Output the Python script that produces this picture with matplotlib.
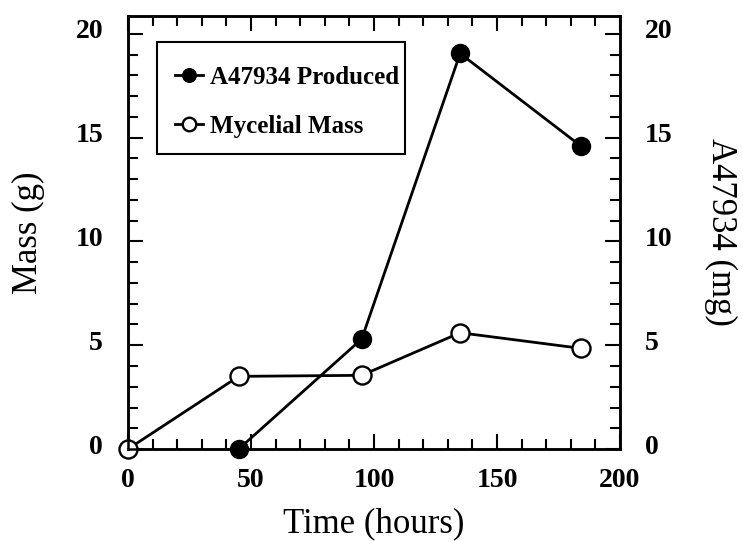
import matplotlib
matplotlib.use('Agg')
import matplotlib.pyplot as plt
import matplotlib.transforms as mtransforms
from matplotlib.patches import Rectangle
from matplotlib.ticker import MultipleLocator

plt.rcParams['font.family'] = ['Liberation Serif', 'DejaVu Serif']

# data
mass_time = [0, 45, 95, 135, 184]
mycelial_mass = [0, 3.5, 3.55, 5.6, 4.85]
prod_time = [45, 95, 135, 184]
a47934 = [0, 5.3, 19.05, 14.6]

fig = plt.figure(figsize=(7.43, 5.41), dpi=100)
ax = fig.add_axes([0.1723, 0.170, 0.6622, 0.801])
ax2 = ax.twinx()

ax.plot(prod_time, a47934, '-o', color='black', lw=2, ms=13,
        mfc='black', mec='black', label='A47934 Produced', zorder=3,
        clip_on=False)
ax.plot(mass_time, mycelial_mass, '-o', color='black', lw=2, ms=13,
        mfc='white', mec='black', mew=1.7, label='Mycelial Mass', zorder=3,
        clip_on=False)

for a in (ax, ax2):
    a.set_xlim(0, 200)
    a.set_ylim(0, 20.87)
    a.yaxis.set_major_locator(MultipleLocator(5))
    a.yaxis.set_minor_locator(MultipleLocator(1))
    for s in a.spines.values():
        s.set_linewidth(1.8)
ax.xaxis.set_major_locator(MultipleLocator(50))
ax.xaxis.set_minor_locator(MultipleLocator(10))

ax.tick_params(which='both', direction='in', top=True, right=False, width=1.5)
ax.tick_params(which='major', length=11, labelsize=20)
ax.tick_params(axis='y', which='major', pad=18)
ax.tick_params(axis='x', which='major', pad=14)
ax.tick_params(which='minor', length=7)
ax2.tick_params(which='both', direction='in', width=1.5)
ax2.tick_params(which='major', length=11, labelsize=20, pad=18)
ax2.tick_params(which='minor', length=7)

# y tick labels sit a little above their ticks in the original
up = mtransforms.ScaledTranslation(0, 5 / 100, fig.dpi_scale_trans)
for lab in ax.get_xticklabels():
    lab.set_fontweight('bold')
for lab in ax.get_yticklabels() + ax2.get_yticklabels():
    lab.set_fontweight('bold')
    lab.set_transform(lab.get_transform() + up)

ax.set_xlabel('Time (hours)', fontsize=25, labelpad=10)
ax.set_ylabel('Mass (g)', fontsize=25, labelpad=22)
ax2.set_ylabel('A47934 (mg)', fontsize=25, rotation=270, labelpad=46)

leg = ax.legend(loc='upper left', bbox_to_anchor=(0.053, 0.934),
                borderaxespad=0,
                prop={'weight': 'bold', 'size': 18}, markerscale=0.75,
                handlelength=1.1, handletextpad=0.3, labelspacing=1.05,
                borderpad=0.85, frameon=False)
leg.set_zorder(5)

# legend box drawn by hand: the original has a narrower right margin
box = Rectangle((0.059, 0.681), 0.504, 0.258, transform=ax.transAxes,
                facecolor='white', edgecolor='black', lw=1.5, zorder=4)
ax.add_patch(box)

fig.savefig('out.png', dpi=100)
